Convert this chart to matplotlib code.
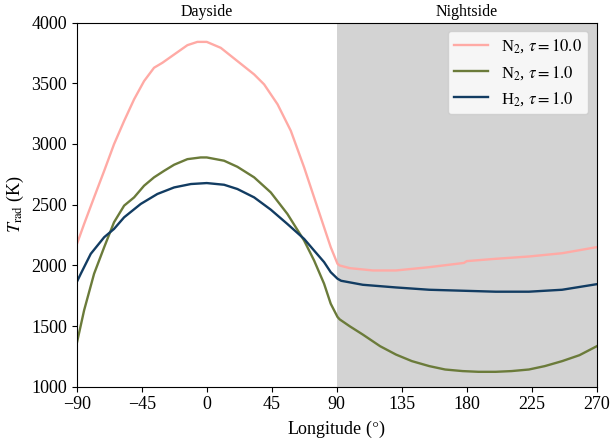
import numpy as np
import matplotlib
matplotlib.use('Agg')
import matplotlib.pyplot as plt

plt.rcParams['font.family'] = ['Liberation Serif', 'DejaVu Serif']
plt.rcParams['mathtext.fontset'] = 'stix'
plt.rcParams['font.size'] = 13

# N2, tau = 10
lon_n2_10 = [-90, -84.9, -78, -71, -64.2, -57.2, -50.3, -43.4, -36.5, -30.7, -22.6, -13.4, -6.5, 0,
             9.7, 21.2, 32.8, 39.7, 49, 58.2, 67.4, 74.3, 81.2, 85.8, 90.5,
             92, 99, 115, 131, 154, 178, 180, 200, 223, 246, 270]
t_n2_10 = [2172, 2341, 2560, 2779, 2998, 3190, 3368, 3518, 3628, 3669, 3737, 3814, 3841, 3841,
           3792, 3683, 3573, 3491, 3327, 3108, 2807, 2560, 2314, 2150, 2013,
           1999, 1977, 1958, 1958, 1985, 2020, 2035, 2054, 2073, 2100, 2150]

# N2, tau = 1
lon_n2_1 = [-90, -84.9, -78, -71, -64.2, -57.2, -50.3, -43.4, -36.5, -29.5, -22.6, -13.4, -4.2, 0,
            12, 21.2, 32.8, 44.3, 55.8, 67.4, 74.3, 81.2, 85.8, 90.5,
            92, 99, 108, 120, 131, 142, 154, 165, 177, 188, 200, 211, 223, 234, 246, 258, 270]
t_n2_1 = [1356, 1630, 1931, 2150, 2355, 2492, 2560, 2656, 2725, 2779, 2829, 2875, 2889, 2889,
          2862, 2812, 2725, 2601, 2424, 2204, 2040, 1849, 1684, 1575,
          1555, 1498, 1430, 1334, 1265, 1211, 1170, 1142, 1129, 1123, 1123, 1129, 1142, 1170, 1211, 1260, 1334]

# H2, tau = 1
lon_h2_1 = [-90, -87.2, -80.3, -71, -64.2, -57.2, -45.7, -34.2, -22.6, -11, 0,
            12, 21.2, 32.8, 44.3, 55.8, 67.4, 74.3, 81.2, 85.8, 90.5,
            93, 108, 131, 154, 177, 200, 223, 246, 270]
t_h2_1 = [1862, 1931, 2095, 2232, 2300, 2396, 2506, 2588, 2642, 2670, 2678,
          2664, 2629, 2560, 2459, 2341, 2218, 2122, 2027, 1944, 1890,
          1873, 1840, 1818, 1799, 1791, 1783, 1783, 1799, 1845]

fig, ax = plt.subplots(figsize=(6.14, 4.43), dpi=100)
ax.axvspan(90, 270, color='#d3d3d3', lw=0, zorder=0)

ax.plot(lon_n2_10, t_n2_10, color='#ffaaa5', lw=1.7, label=r'N$_2$, $\tau = 10.0$')
ax.plot(lon_n2_1, t_n2_1, color='#6b7b3a', lw=1.7, label=r'N$_2$, $\tau = 1.0$')
ax.plot(lon_h2_1, t_h2_1, color='#123c62', lw=1.7, label=r'H$_2$, $\tau = 1.0$')

ax.set_xlim(-90, 270)
ax.set_ylim(1000, 4000)
ax.set_xticks([-90, -45, 0, 45, 90, 135, 180, 225, 270])
ax.set_yticks([1000, 1500, 2000, 2500, 3000, 3500, 4000])
ax.set_xlabel(r'Longitude ($\degree$)')
ax.set_ylabel(r'$T_{\rm rad}$ (K)')

ax.text(0, 1.008, 'Dayside', transform=ax.get_xaxis_transform(), ha='center', va='bottom', fontsize=11.5)
ax.text(180, 1.008, 'Nightside', transform=ax.get_xaxis_transform(), ha='center', va='bottom', fontsize=11.5)

ax.legend(loc='upper right', fontsize=12)

fig.subplots_adjust(left=0.125, right=0.972, top=0.949, bottom=0.127)
fig.savefig('out.png')
